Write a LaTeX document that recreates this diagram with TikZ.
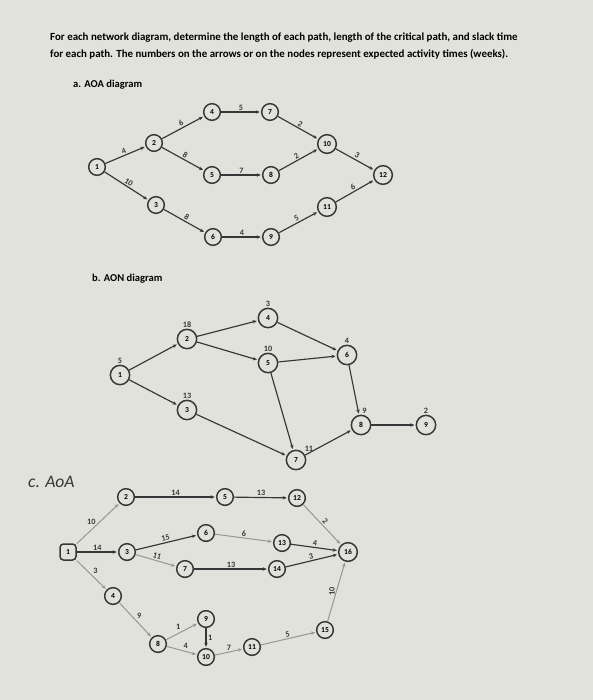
\documentclass[tikz,border=0pt]{standalone}
\usepackage{fontspec}
\setmainfont{Carlito}
\usetikzlibrary{arrows.meta}
\definecolor{paper}{RGB}{226,226,221}
\definecolor{ink}{RGB}{55,55,55}
\definecolor{faint}{RGB}{150,150,148}

\begin{document}
\begin{tikzpicture}[x=0.03cm,y=-0.03cm,
		stn/.style={circle,draw=ink,line width=0.45mm,minimum size=0.5cm,inner sep=0pt,font=\fontsize{6.5}{7}\selectfont\bfseries},
		act/.style={stn,minimum size=0.58cm},
		lbl/.style={font=\fontsize{7}{7}\selectfont\bfseries,text=ink,inner sep=1pt},
		head/.style={font=\fontsize{9.3}{10}\selectfont\bfseries,anchor=west,inner sep=0pt},
		arr/.style={-{Stealth[length=3.5pt,width=3pt]},draw=ink,line width=0.35mm,shorten >=1pt},
		weak/.style={arr,draw=faint,line width=0.3mm}]
			%%%%% START %%%%%
			
			\fill[paper] (0,0) rectangle (593,700);
			\useasboundingbox (0,0) rectangle (593,700);
			
			\node[head] (title1) at (50,38) {For each network diagram, determine the length of each path, length of the critical path, and slack time};
			\node[head] (title2) at (50,54) {for each path. The numbers on the arrows or on the nodes represent expected activity times (weeks).};
			\node[head,font=\fontsize{9}{10}\selectfont\bfseries] (parta) at (73,85) {a. AOA diagram};
			
			% a. AOA diagram
			\node[stn] (a1) at (97,167) {1};
			\node[stn] (a2) at (154,143) {2};
			\node[stn] (a3) at (156,205) {3};
			\node[stn] (a4) at (212,112) {4};
			\node[stn] (a5) at (212,175) {5};
			\node[stn] (a6) at (213,237) {6};
			\node[stn] (a7) at (270,112) {7};
			\node[stn] (a8) at (271,175) {8};
			\node[stn] (a9) at (271,237) {9};
			\node[stn,minimum size=0.56cm] (a10) at (327,144) {10};
			\node[stn,minimum size=0.56cm] (a11) at (327,207) {11};
			\node[stn,minimum size=0.56cm] (a12) at (383,175) {12};
			
			\draw[arr] (a1) -- node[lbl,above,sloped] {4} (a2);
			\draw[arr] (a1) -- node[lbl,above,sloped] {10} (a3);
			\draw[arr] (a2) -- node[lbl,above,sloped] {6} (a4);
			\draw[arr] (a2) -- node[lbl,above,sloped] {8} (a5);
			\draw[arr] (a3) -- node[lbl,above,sloped] {8} (a6);
			\draw[arr] (a4) -- node[lbl,above] {5} (a7);
			\draw[arr] (a5) -- node[lbl,above] {7} (a8);
			\draw[arr] (a6) -- node[lbl,above] {4} (a9);
			\draw[arr] (a7) -- node[lbl,above,sloped] {2} (a10);
			\draw[arr] (a8) -- node[lbl,above,sloped] {2} (a10);
			\draw[arr] (a9) -- node[lbl,above,sloped] {5} (a11);
			\draw[arr] (a10) -- node[lbl,above,sloped] {3} (a12);
			\draw[arr] (a11) -- node[lbl,above,sloped] {6} (a12);
			
			% b. AON diagram
			\node[head,font=\fontsize{9}{10}\selectfont\bfseries] (partb) at (92,279) {b. AON diagram};
			
			\node[act,label={[lbl]above:5}] (b1) at (120,375) {1};
			\node[act,label={[lbl]above:18}] (b2) at (187,339) {2};
			\node[act,label={[lbl]above:13}] (b3) at (187,410) {3};
			\node[act,label={[lbl]above:3}] (b4) at (268,318) {4};
			\node[act,label={[lbl]above:10}] (b5) at (268,363) {5};
			\node[act,label={[lbl]above:4}] (b6) at (347,355) {6};
			\node[act,label={[lbl]above right:11}] (b7) at (296,460) {7};
			\node[act,label={[lbl,xshift=3pt]above:9}] (b8) at (361,425) {8};
			\node[act,label={[lbl]above:2}] (b9) at (426,425) {9};
			
			\draw[arr] (b1) -- (b2);
			\draw[arr] (b1) -- (b3);
			\draw[arr] (b2) -- (b4);
			\draw[arr] (b2) -- (b5);
			\draw[arr] (b3) -- (b7);
			\draw[arr] (b5) -- (b7);
			\draw[arr] (b4) -- (b6);
			\draw[arr] (b5) -- (b6);
			\draw[arr] (b6) -- (b8);
			\draw[arr] (b7) -- (b8);
			\draw[arr] (b8) -- (b9);
			
			% c. AOA (handwritten heading)
			\node[anchor=west,inner sep=0pt,font=\fontsize{15}{16}\selectfont\itshape,text=ink] (partc) at (28,482) {c. AoA};
			
			\node[stn,rounded corners=3pt,rectangle,minimum size=0.48cm] (c1) at (68,552) {1};
			\node[stn] (c2) at (126,497) {2};
			\node[stn] (c3) at (127,552) {3};
			\node[stn] (c4) at (113,596) {4};
			\node[stn] (c5) at (225,497) {5};
			\node[stn] (c6) at (206,533) {6};
			\node[stn] (c7) at (185,569) {7};
			\node[stn] (c8) at (158,644) {8};
			\node[stn] (c9) at (206,619) {9};
			\node[stn] (c10) at (206,657) {10};
			\node[stn] (c11) at (252,647) {11};
			\node[stn] (c12) at (297,498) {12};
			\node[stn] (c13) at (282,543) {13};
			\node[stn] (c14) at (277,569) {14};
			\node[stn] (c15) at (325,630) {15};
			\node[stn,minimum size=0.56cm] (c16) at (348,552) {16};
			
			\draw[weak] (c1) -- node[lbl,pos=0.45,above left,inner sep=0pt] {10} (c2);
			\draw[arr] (c1) -- node[lbl,above] {14} (c3);
			\draw[weak] (c1) -- node[lbl,above right] {3} (c4);
			\draw[arr] (c2) -- node[lbl,above] {14} (c5);
			\draw[arr] (c3) -- node[lbl,above,sloped] {15} (c6);
			\draw[weak] (c3) -- node[lbl,above,sloped] {11} (c7);
			\draw[weak] (c4) -- node[lbl,above right] {9} (c8);
			\draw[arr] (c5) -- node[lbl,above] {13} (c12);
			\draw[weak] (c6) -- node[lbl,above] {6} (c13);
			\draw[arr] (c7) -- node[lbl,above] {13} (c14);
			\draw[weak] (c8) -- node[lbl,above left] {1} (c9);
			\draw[weak] (c8) -- node[lbl,above right] {4} (c10);
			\draw[arr,line width=0.5mm] (c9) -- node[lbl,right] {1} (c10);
			\draw[weak] (c10) -- node[lbl,above] {7} (c11);
			\draw[weak] (c11) -- node[lbl,above,sloped] {5} (c15);
			\draw[weak] (c12) -- node[lbl,above,sloped] {2} (c16);
			\draw[arr] (c13) -- node[lbl,above,sloped] {4} (c16);
			\draw[arr] (c14) -- node[lbl,above,sloped] {3} (c16);
			\draw[weak] (c15) -- node[lbl,left,rotate=90,anchor=south] {10} (c16);
			
			%%%%% END %%%%%
\end{tikzpicture}
\end{document}
